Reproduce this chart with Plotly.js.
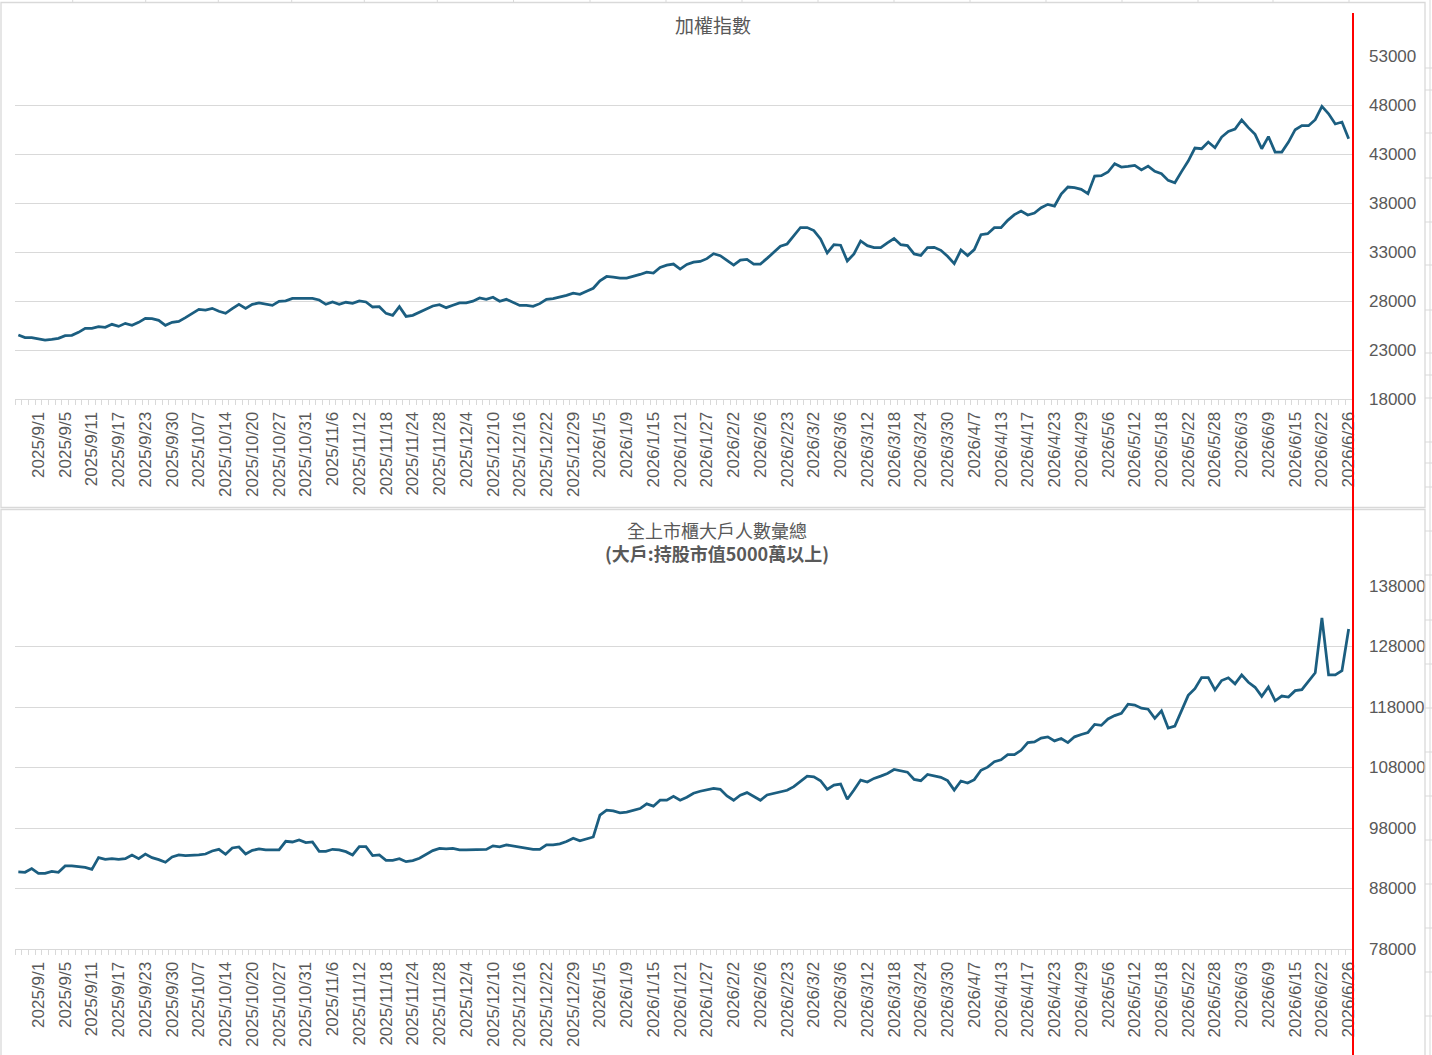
<!DOCTYPE html>
<html><head><meta charset="utf-8">
<script src="https://cdn.plot.ly/plotly-3.0.1.min.js"></script>
<style>html,body{margin:0;padding:0;background:#fff;overflow:hidden}#chart{width:1432px;height:1055px}</style>
</head><body><div id="chart"></div>
<script>
// ---- categories: trading days ----
const dates = [
"2025/8/27","2025/8/28","2025/8/29",
"2025/9/1","2025/9/2","2025/9/3","2025/9/4","2025/9/5","2025/9/8","2025/9/9","2025/9/10","2025/9/11","2025/9/12",
"2025/9/15","2025/9/16","2025/9/17","2025/9/18","2025/9/19","2025/9/22","2025/9/23","2025/9/24","2025/9/25","2025/9/26","2025/9/30",
"2025/10/1","2025/10/2","2025/10/3","2025/10/7","2025/10/8","2025/10/9","2025/10/13","2025/10/14","2025/10/15","2025/10/16","2025/10/17",
"2025/10/20","2025/10/21","2025/10/22","2025/10/23","2025/10/27","2025/10/28","2025/10/29","2025/10/30","2025/10/31",
"2025/11/3","2025/11/4","2025/11/5","2025/11/6","2025/11/7","2025/11/10","2025/11/11","2025/11/12","2025/11/13","2025/11/14",
"2025/11/17","2025/11/18","2025/11/19","2025/11/20","2025/11/21","2025/11/24","2025/11/25","2025/11/26","2025/11/27","2025/11/28",
"2025/12/1","2025/12/2","2025/12/3","2025/12/4","2025/12/5","2025/12/8","2025/12/9","2025/12/10","2025/12/11","2025/12/12",
"2025/12/15","2025/12/16","2025/12/17","2025/12/18","2025/12/19","2025/12/22","2025/12/23","2025/12/24","2025/12/26",
"2025/12/29","2025/12/30","2025/12/31",
"2026/1/2","2026/1/5","2026/1/6","2026/1/7","2026/1/8","2026/1/9","2026/1/12","2026/1/13","2026/1/14","2026/1/15","2026/1/16",
"2026/1/19","2026/1/20","2026/1/21","2026/1/22","2026/1/23","2026/1/26","2026/1/27","2026/1/28","2026/1/29","2026/1/30",
"2026/2/2","2026/2/3","2026/2/4","2026/2/5","2026/2/6","2026/2/9","2026/2/10","2026/2/11",
"2026/2/23","2026/2/24","2026/2/25","2026/2/26",
"2026/3/2","2026/3/3","2026/3/4","2026/3/5","2026/3/6","2026/3/9","2026/3/10","2026/3/11","2026/3/12","2026/3/13",
"2026/3/16","2026/3/17","2026/3/18","2026/3/19","2026/3/20","2026/3/23","2026/3/24","2026/3/25","2026/3/26","2026/3/27",
"2026/3/30","2026/3/31",
"2026/4/1","2026/4/2","2026/4/7","2026/4/8","2026/4/9","2026/4/10","2026/4/13","2026/4/14","2026/4/15","2026/4/16","2026/4/17",
"2026/4/20","2026/4/21","2026/4/22","2026/4/23","2026/4/24","2026/4/27","2026/4/28","2026/4/29","2026/4/30",
"2026/5/4","2026/5/5","2026/5/6","2026/5/7","2026/5/8","2026/5/11","2026/5/12","2026/5/13","2026/5/14","2026/5/15",
"2026/5/18","2026/5/19","2026/5/20","2026/5/21","2026/5/22","2026/5/25","2026/5/26","2026/5/27","2026/5/28","2026/5/29",
"2026/6/1","2026/6/2","2026/6/3","2026/6/4","2026/6/5","2026/6/8","2026/6/9","2026/6/10","2026/6/11","2026/6/12",
"2026/6/15","2026/6/16","2026/6/17","2026/6/18","2026/6/22","2026/6/23","2026/6/24","2026/6/25","2026/6/26"
];

// ---- tick labels shown on the x axes ----
const labelDates = [
"2025/9/1","2025/9/5","2025/9/11","2025/9/17","2025/9/23","2025/9/30","2025/10/7","2025/10/14","2025/10/20","2025/10/27",
"2025/10/31","2025/11/6","2025/11/12","2025/11/18","2025/11/24","2025/11/28","2025/12/4","2025/12/10","2025/12/16","2025/12/22",
"2025/12/29","2026/1/5","2026/1/9","2026/1/15","2026/1/21","2026/1/27","2026/2/2","2026/2/6","2026/2/23","2026/3/2",
"2026/3/6","2026/3/12","2026/3/18","2026/3/24","2026/3/30","2026/4/7","2026/4/13","2026/4/17","2026/4/23","2026/4/29",
"2026/5/6","2026/5/12","2026/5/18","2026/5/22","2026/5/28","2026/6/3","2026/6/9","2026/6/15","2026/6/22","2026/6/26"
];

// ---- series: 加權指數 ----
const taiex = [
24530,24260,24260,24150,24020,24090,24190,24460,24500,24800,
25210,25210,25380,25310,25620,25410,25720,25520,25820,26230,
26200,26030,25520,25820,25920,26300,26740,27150,27080,27250,
26950,26740,27220,27660,27250,27660,27800,27700,27560,27970,
28010,28270,28270,28200,28270,28100,27660,27900,27660,27870,
27760,28010,27900,27390,27420,26740,26540,27420,26430,26540,
26840,27220,27490,27630,27320,27560,27800,27820,27980,28310,
28170,28380,27970,28170,27860,27550,27550,27450,27730,28170,
28240,28380,28580,28790,28690,28990,29300,30050,30500,30430,
30330,30330,30500,30710,30950,30850,31430,31660,31770,31250,
31730,31970,32040,32320,32830,32620,32140,31660,32180,32250,
31770,31770,32350,32970,33580,33820,34610,35500,35500,35190,
34340,32900,33750,33690,32080,32800,34130,33650,33450,33450,
33930,34370,33750,33650,32800,32650,33450,33480,33170,32560,
31810,33200,32630,33240,34770,34870,35480,35480,36230,36810,
37180,36780,36980,37520,37860,37690,38920,39630,39560,39390,
38950,40750,40790,41160,42010,41670,41740,41840,41370,41770,
41230,40990,40310,40070,41200,42280,43610,43540,44220,43640,
44730,45310,45550,46470,45690,45010,43540,44770,43200,43200,
44220,45480,45890,45890,46500,47860,47110,46060,46260,44560
];

// ---- series: 全上市櫃大戶人數彙總 ----
const bigHolders = [
90730,90680,91280,90500,90500,90840,90680,91720,91720,91550,
91500,91170,93100,92820,92930,92820,92930,93540,92930,93700,
93100,92770,92330,93210,93540,93430,93430,93540,93700,94200,
94480,93650,94700,94870,93700,94310,94530,94370,94370,94370,
95800,95690,96020,95580,95690,94140,94140,94480,94370,94090,
93540,94920,94920,93430,93540,92660,92660,92930,92440,92600,
92990,93590,94260,94640,94530,94640,94400,94400,94450,94450,
94450,95050,94890,95210,95050,94780,94720,94450,94450,95210,
95210,95380,95760,96310,95870,96200,96520,100130,100950,100840,
100510,100620,100900,101220,101990,101610,102590,102590,103250,102590,
103080,103740,104070,104280,104560,104390,103300,102590,103410,103850,
103190,102590,103460,103740,104010,104230,104830,105650,106580,106470,
105810,104390,105100,105270,102750,104280,105920,105600,106200,106580,
107020,107670,107400,107230,106030,105820,106840,106550,106380,105830,
104270,105770,105440,105990,107550,108060,108950,109280,110120,110120,
110840,112120,112230,112850,113070,112400,112790,112120,113070,113460,
113790,115130,114960,116020,116580,116970,118470,118310,117800,117640,
116130,117360,114520,114850,117420,119920,121040,122870,122870,120810,
122370,122820,121820,123320,122090,121260,119750,121310,119030,119810,
119640,120700,120870,122320,123650,132730,123320,123320,123990,130900
];

const W = 1432, H = 1055;
const px = x => x / W;
const py = y => 1 - y / H;

const GRAY = '#d9d9d9';
const TXT = '#595959';
const LINE = '#1b5e80';
const LATIN = 'Liberation Sans, Arial, sans-serif';
const CJK = 'Noto Sans CJK TC, Noto Sans, sans-serif';

const ticktext = dates.map(d => labelDates.includes(d) ? d : '');

function xAxis(anchor) {
  return {
    domain: [px(15), px(1352)], anchor: anchor, type: 'category',
    range: [-0.5, dates.length - 0.5],
    tickmode: 'array', tickvals: dates, ticktext: ticktext,
    tickangle: -90, tickson: 'boundaries',
    ticks: 'outside', ticklen: 5, tickwidth: 1, tickcolor: GRAY,
    ticklabelstandoff: 5,
    showline: true, linecolor: GRAY, linewidth: 1,
    showgrid: false, zeroline: false,
    tickfont: {family: LATIN, size: 17, color: TXT},
    fixedrange: true, automargin: false
  };
}
function yAxis(anchor, dom, range, dtick) {
  return {
    domain: dom, anchor: anchor, side: 'right',
    range: range, tick0: range[0], dtick: dtick, tickformat: 'd',
    showgrid: true, gridcolor: GRAY, gridwidth: 1,
    zeroline: false, showline: false, ticks: '',
    ticklabelstandoff: 16,
    tickfont: {family: LATIN, size: 17, color: TXT},
    fixedrange: true, automargin: false
  };
}

const traces = [
  {x: dates, y: taiex, xaxis: 'x', yaxis: 'y', type: 'scatter', mode: 'lines',
   line: {color: LINE, width: 2.75}, hoverinfo: 'skip'},
  {x: dates, y: bigHolders, xaxis: 'x2', yaxis: 'y2', type: 'scatter', mode: 'lines',
   line: {color: LINE, width: 2.75}, hoverinfo: 'skip'}
];

// spreadsheet cell-border stubs around the chart objects
const colStubs = [72.7,145.7,218.3,291.7,364.3,437.3,513.5,590,666,742,818,894,970,1046,1122,1198,1273,1349];
const rowStubs = [68,90,133,178,222,265,310,353,375,398,442,463,487,531,575,620,664,708,752,796,840,884,928,972,1016];

const shapes = [];
colStubs.forEach(x => shapes.push({type:'line', xref:'paper', yref:'paper',
  x0: px(x), x1: px(x), y0: py(0), y1: py(2.5), line:{color: GRAY, width: 1}}));
rowStubs.forEach(y => shapes.push({type:'line', xref:'paper', yref:'paper',
  x0: px(1425), x1: px(1432), y0: py(y), y1: py(y), line:{color: GRAY, width: 1}}));
shapes.push({type:'line', xref:'paper', yref:'paper', x0: px(1430), x1: px(1430), y0: py(0), y1: py(1055), line:{color: GRAY, width: 1}});
// chart object borders
shapes.push({type:'rect', xref:'paper', yref:'paper', x0: px(1), x1: px(1425), y0: py(2.5), y1: py(507.5), line:{color: GRAY, width: 1.3}});
shapes.push({type:'rect', xref:'paper', yref:'paper', x0: px(1), x1: px(1425), y0: py(509.5), y1: py(1056), line:{color: GRAY, width: 1.3}});
// red marker line
shapes.push({type:'line', xref:'paper', yref:'paper', x0: px(1353), x1: px(1353), y0: py(13), y1: py(1055), line:{color: '#ff0000', width: 2}});

const annotations = [
  {text: '加權指數', xref:'paper', yref:'paper', x: px(713), y: py(24), showarrow:false,
   xanchor:'center', yanchor:'middle', font:{family: CJK, size: 19, color: TXT}},
  {text: '全上市櫃大戶人數彙總<br><b>(大戶:持股市值5000萬以上)</b>', xref:'paper', yref:'paper',
   x: px(717), y: py(541.5), showarrow:false, align:'center',
   xanchor:'center', yanchor:'middle', font:{family: CJK, size: 18, color: TXT}}
];

const layout = {
  width: W, height: H,
  margin: {l:0, r:0, t:0, b:0, pad:0},
  paper_bgcolor: '#ffffff', plot_bgcolor: '#ffffff',
  showlegend: false,
  xaxis: xAxis('y'),
  yaxis: yAxis('x', [py(399), py(56)], [18000, 53000], 5000),
  xaxis2: xAxis('y2'),
  yaxis2: yAxis('x2', [py(949), py(586)], [78000, 138000], 10000),
  shapes: shapes,
  annotations: annotations
};

Plotly.newPlot('chart', traces, layout, {staticPlot: true, displayModeBar: false});
</script>
</body></html>
